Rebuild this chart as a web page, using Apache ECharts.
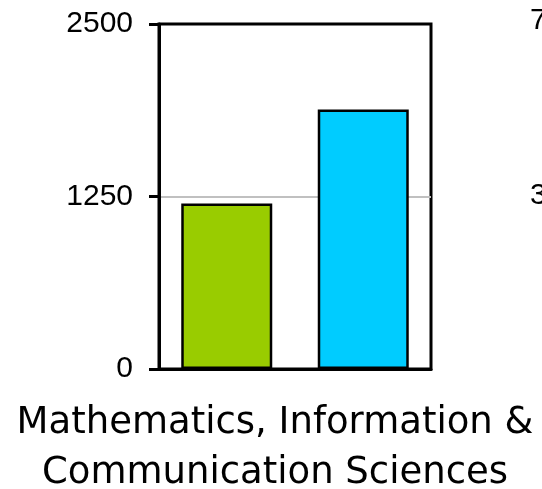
<!DOCTYPE html>
<html>
<head>
<meta charset="utf-8">
<script src="https://cdn.jsdelivr.net/npm/echarts@6/dist/echarts.min.js"></script>
<style>
  html, body { margin: 0; padding: 0; background: #fff; }
  #chart { width: 542px; height: 489px; }
</style>
</head>
<body>
<div id="chart"></div>
<script>
// data
const categories = ["Mathematics, Information &\nCommunication Sciences"];
const seriesA = [1200];
const seriesB = [1880];
const yTicks = { min: 0, max: 2500, interval: 1250 };
// the next chart's axis, only its first digits show at the right edge
const nextTicks = { min: 0, max: 750, interval: 375 };

const chart = echarts.init(document.getElementById("chart"));

chart.setOption({
  animation: false,
  grid: [
    {
      left: 159,
      top: 24,
      right: 111,
      bottom: 120,
      outerBoundsMode: "none",
      containLabel: false,
      show: true,
      borderColor: "#000",
      borderWidth: 3,
    },
    {
      left: 606,
      top: 21,
      width: 200,
      bottom: 118,
      outerBoundsMode: "none",
      containLabel: false,
    },
  ],
  xAxis: [
    {
      type: "category",
      gridIndex: 0,
      data: categories,
      axisLine: { lineStyle: { color: "#000", width: 3 } },
      axisTick: { show: false },
      axisLabel: {
        interval: 0,
        margin: 29,
        color: "#000",
        fontFamily: "DejaVu Sans",
        fontSize: 37,
        lineHeight: 50,
        padding: [0, 40, 0, 0],
      },
    },
    {
      type: "category",
      gridIndex: 1,
      data: [""],
      show: false,
    },
  ],
  yAxis: [
    {
      type: "value",
      gridIndex: 0,
      min: yTicks.min,
      max: yTicks.max,
      interval: yTicks.interval,
      axisLine: { show: true, lineStyle: { color: "#000", width: 3 } },
      axisTick: { show: true, length: 10, lineStyle: { color: "#000", width: 3 } },
      axisLabel: {
        margin: 26,
        color: "#000",
        fontFamily: "Liberation Sans",
        fontSize: 30,
        formatter: (v) => String(v),
      },
      splitLine: {
        show: true,
        showMinLine: false,
        showMaxLine: false,
        lineStyle: { color: "#c0c0c0", width: 2 },
      },
    },
    {
      type: "value",
      gridIndex: 1,
      min: nextTicks.min,
      max: nextTicks.max,
      interval: nextTicks.interval,
      axisLine: { show: false },
      axisTick: { show: false },
      splitLine: { show: false },
      axisLabel: {
        margin: 26,
        color: "#000",
        fontFamily: "Liberation Sans",
        fontSize: 30,
        formatter: (v) => String(v),
      },
    },
  ],
  series: [
    {
      type: "bar",
      xAxisIndex: 0,
      yAxisIndex: 0,
      data: seriesA,
      barWidth: 91,
      barGap: "50%",
      itemStyle: { color: "#99cc00", borderColor: "#000", borderWidth: 2.5 },
    },
    {
      type: "bar",
      xAxisIndex: 0,
      yAxisIndex: 0,
      data: seriesB,
      barWidth: 91,
      itemStyle: { color: "#00ccff", borderColor: "#000", borderWidth: 2.5 },
    },
  ],
});
</script>
</body>
</html>
